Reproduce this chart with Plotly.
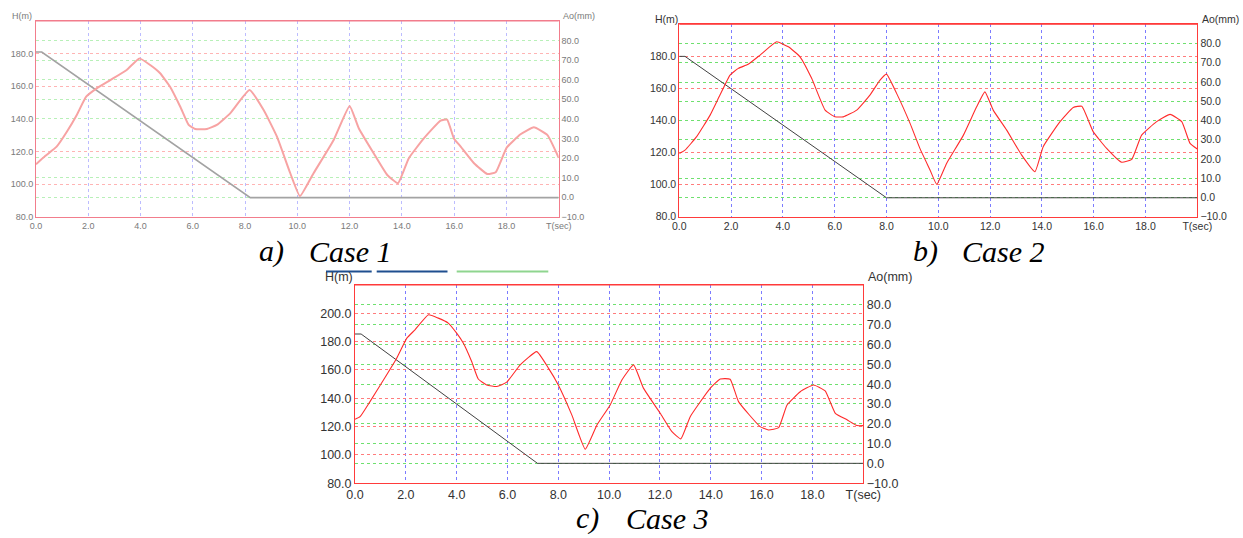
import plotly.graph_objects as go

# ---------------- data ----------------
T_TICKS = [0, 2, 4, 6, 8, 10, 12, 14, 16, 18, 20]
T_LABELS = ["0.0", "2.0", "4.0", "6.0", "8.0", "10.0", "12.0", "14.0", "16.0", "18.0", "T(sec)"]
H_TICKS_AB = [80, 100, 120, 140, 160, 180]
H_TICKS_C = [80, 100, 120, 140, 160, 180, 200]
AO_TICKS = [-10, 0, 10, 20, 30, 40, 50, 60, 70, 80]

# Case 1
t_a_H = [0.0, 0.22, 8.2, 20.0]
H_a = [181.0, 181.0, 91.7, 91.7]
t_a_Ao = [0, 0.35, 0.79, 1.18, 1.56, 1.92, 2.32, 2.84, 3.47, 3.96, 4.37, 4.75, 5.13, 5.52,
          5.84, 6.09, 6.54, 6.92, 7.43, 8.17, 8.71, 9.22, 9.73, 10.1, 10.62, 11.39, 12.0,
          12.35, 12.92, 13.44, 13.85, 14.26, 14.84, 15.48, 15.73, 15.99, 16.25, 16.76,
          17.27, 17.59, 18.01, 18.54, 19.05, 19.57, 20.0]
Ao_a = [16.8, 21.0, 25.8, 33.4, 42.0, 51.3, 55.6, 59.8, 65.0, 70.9, 67.5, 63.3, 56.4, 46.2,
        36.9, 34.8, 34.8, 36.9, 42.8, 54.7, 44.5, 30.9, 12.2, 0.5, 12.2, 29.2, 46.6,
        35.2, 22.4, 11.3, 7.1, 19.8, 30.0, 39.1, 39.6, 30.0, 25.8, 17.3,
        11.8, 12.7, 25.3, 32.1, 35.7, 31.7, 20.1]

# Case 2
t_b_H = [0.0, 0.22, 8.0, 20.0]
H_b = [180.0, 180.0, 91.8, 91.8]
t_b_Ao = [0, 0.22, 0.67, 1.19, 1.57, 1.96, 2.28, 2.66, 3.12, 3.76, 4.21, 4.66, 5.11, 5.63,
          6.01, 6.33, 6.85, 7.36, 7.75, 8.0, 8.39, 8.91, 9.29, 9.68, 9.94, 10.32, 10.97,
          11.48, 11.8, 12.12, 12.64, 13.22, 13.73, 14.05, 14.7, 15.21, 15.54, 15.98, 16.5,
          17.08, 17.47, 17.85, 18.43, 18.95, 19.4, 19.72, 20.0]
Ao_b = [22.9, 24.6, 31.6, 42.8, 53.2, 63.6, 67.1, 69.2, 74.0, 80.9, 78.3, 73.1, 61.9, 45.4,
        41.9, 41.9, 45.4, 53.2, 61.0, 64.1, 54.1, 38.5, 25.5, 14.3, 6.8, 17.7, 32.4,
        47.1, 54.9, 45.4, 35.0, 22.0, 13.4, 26.4, 39.4, 46.8, 47.4, 34.2, 25.5,
        18.3, 19.8, 32.4, 39.4, 43.2, 39.4, 28.1, 25.2]

# Case 3
t_c_H = [0.0, 0.24, 7.18, 20.0]
H_c = [185.4, 185.4, 94.1, 94.1]
t_c_Ao = [0, 0.2, 0.59, 1.12, 1.64, 2.04, 2.36, 2.89, 3.28, 3.67, 4.0, 4.26, 4.59, 4.85,
          5.18, 5.58, 5.97, 6.5, 7.15, 7.61, 8.0, 8.53, 9.06, 9.52, 10.04, 10.5, 10.96,
          11.35, 12.01, 12.47, 12.82, 13.19, 13.98, 14.37, 14.76, 15.09, 15.94, 16.27,
          16.67, 17.0, 17.52, 18.04, 18.5, 18.9, 19.36, 19.75, 20.0]
Ao_c = [22.3, 23.6, 31.2, 42.1, 53.1, 63.2, 67.4, 75.0, 73.3, 70.8, 65.7, 60.7, 51.4, 42.6,
        39.6, 38.8, 41.0, 49.7, 56.4, 48.1, 39.6, 24.5, 7.2, 19.4, 29.5, 42.1, 49.7,
        38.0, 25.3, 16.0, 12.4, 23.6, 38.0, 42.6, 42.5, 31.2, 18.6, 16.9,
        18.1, 29.5, 36.2, 39.6, 36.6, 25.3, 22.0, 19.1, 19.1]

# ---------------- layout helpers ----------------
W, HT = 1243, 538


def fx(p):
    return p / W


def fy(p):
    return 1 - p / HT


FAINT = dict(frame="#f27d8c", vgrid="#bcbcff", hred="#ffb4b4", hgreen="#b8f0b8",
             ao="#f7a3a3", ao_w=2.0, h="#a3a3a3", h_w=1.7, text="#7a7a7a", fs=9)
SHARP_B = dict(frame="#ff3b3b", vgrid="#7c7cff", hred="#ff7c7c", hgreen="#6fe06f",
               ao="#ff2b2b", ao_w=1.1, h="#404040", h_w=1.0, text="#333333", fs=10.5)
SHARP_C = dict(SHARP_B, fs=12.5)
FRAME_W = 1.0

panels = [
    dict(n=1, px=(36, 558.7), py=(21, 216.7), hr=[80, 200], htk=H_TICKS_AB, st=FAINT,
         tH=t_a_H, H=H_a, tA=t_a_Ao, A=Ao_a,
         hlab=(10, 16), alab=(561, 16)),
    dict(n=2, px=(679.3, 1197.3), py=(24.3, 216.7), hr=[80, 200], htk=H_TICKS_AB, st=SHARP_B,
         tH=t_b_H, H=H_b, tA=t_b_Ao, A=Ao_b,
         hlab=(653, 19), alab=(1200, 19)),
    dict(n=3, px=(355, 863.3), py=(285, 483.3), hr=[80, 220], htk=H_TICKS_C, st=SHARP_C,
         tH=t_c_H, H=H_c, tA=t_c_Ao, A=Ao_c,
         hlab=(323, 277), alab=(866, 277)),
]

fig = go.Figure()
layout = dict(width=W, height=HT, autosize=False,
              margin=dict(l=0, r=0, t=0, b=0, pad=0),
              paper_bgcolor="white", plot_bgcolor="white", hovermode=False,
              showlegend=False, font=dict(family="Liberation Sans, Arial, sans-serif"))
annotations = []
shapes = []

for p in panels:
    n = p["n"]
    st = p["st"]
    xa = "x" if n == 1 else f"x{n}"
    yl_i = 2 * n - 1
    yr_i = 2 * n
    yl = "y" if yl_i == 1 else f"y{yl_i}"
    yr = f"y{yr_i}"
    tf = dict(size=st["fs"], color=st["text"], family="Liberation Sans, Arial, sans-serif")

    layout["xaxis" if n == 1 else f"xaxis{n}"] = dict(
        domain=[fx(p["px"][0]), fx(p["px"][1])], anchor=yl, range=[0, 20],
        tickvals=T_TICKS, ticktext=T_LABELS, ticks="", tickfont=tf, automargin=False,
        showgrid=True, gridcolor=st["vgrid"], griddash="dot", gridwidth=1,
        showline=True, linecolor=st["frame"], linewidth=FRAME_W, mirror=True,
        zeroline=False, fixedrange=True)
    layout["yaxis" if yl_i == 1 else f"yaxis{yl_i}"] = dict(
        domain=[fy(p["py"][1]), fy(p["py"][0])], anchor=xa, range=p["hr"],
        tickvals=p["htk"], tickformat=".1f", ticks="", tickfont=tf, automargin=False,
        showgrid=True, gridcolor=st["hred"], griddash="dot", gridwidth=1,
        showline=True, linecolor=st["frame"], linewidth=FRAME_W,
        zeroline=False, fixedrange=True)
    layout[f"yaxis{yr_i}"] = dict(
        overlaying=yl, side="right", anchor=xa, range=[-10, 90],
        tickvals=AO_TICKS, tickformat=".1f", ticks="", tickfont=tf, automargin=False,
        showgrid=True, gridcolor=st["hgreen"], griddash="dot", gridwidth=1,
        showline=True, linecolor=st["frame"], linewidth=FRAME_W,
        zeroline=False, fixedrange=True)

    fig.add_trace(go.Scatter(x=p["tH"], y=p["H"], mode="lines", xaxis=xa, yaxis=yl,
                             line=dict(color=st["h"], width=st["h_w"]), hoverinfo="skip"))
    fig.add_trace(go.Scatter(x=p["tA"], y=p["A"], mode="lines", xaxis=xa, yaxis=yr,
                             line=dict(color=st["ao"], width=st["ao_w"], shape="spline",
                                       smoothing=0.4),
                             hoverinfo="skip"))

    # explicit top frame edge
    shapes.append(dict(type="line", xref="paper", yref="paper",
                       x0=fx(p["px"][0]), x1=fx(p["px"][1]),
                       y0=fy(p["py"][0]), y1=fy(p["py"][0]),
                       line=dict(color=st["frame"], width=FRAME_W), layer="above"))

    for txt, pos in (("H(m)", p["hlab"]), ("Ao(mm)", p["alab"])):
        annotations.append(dict(text=txt, x=fx(pos[0]), y=fy(pos[1]), xref="paper", yref="paper",
                                xanchor="left", yanchor="middle", showarrow=False,
                                font=dict(size=st["fs"], color=st["text"])))

# captions
CAP_FONT = dict(family="Liberation Serif, Times New Roman, serif", size=30, color="black")
captions = [("a)", 257, 251), ("Case 1", 307, 251),
            ("b)", 911, 251), ("Case 2", 960, 251),
            ("c)", 574, 518), ("Case 3", 624, 518)]
for txt, x, y in captions:
    annotations.append(dict(text=f"<i>{txt}</i>", x=fx(x), y=fy(y), xref="paper", yref="paper",
                            xanchor="left", yanchor="middle", showarrow=False, font=CAP_FONT))

# thin colour strips (scan artefacts above case 3)
for (x0, x1, col) in ((326, 371.7, "#1f4f8f"), (376.7, 447.5, "#1f4f8f"), (456.7, 548.3, "#8fd58f")):
    shapes.append(dict(type="line", xref="paper", yref="paper", x0=fx(x0), x1=fx(x1),
                       y0=fy(271.5), y1=fy(271.5), line=dict(color=col, width=2), layer="above"))

layout["annotations"] = annotations
layout["shapes"] = shapes
fig.update_layout(**layout)
fig.write_html("out.html",
               config={"displayModeBar": False, "staticPlot": True},
               post_script="document.body.style.margin='0';document.body.style.overflow='hidden';")
